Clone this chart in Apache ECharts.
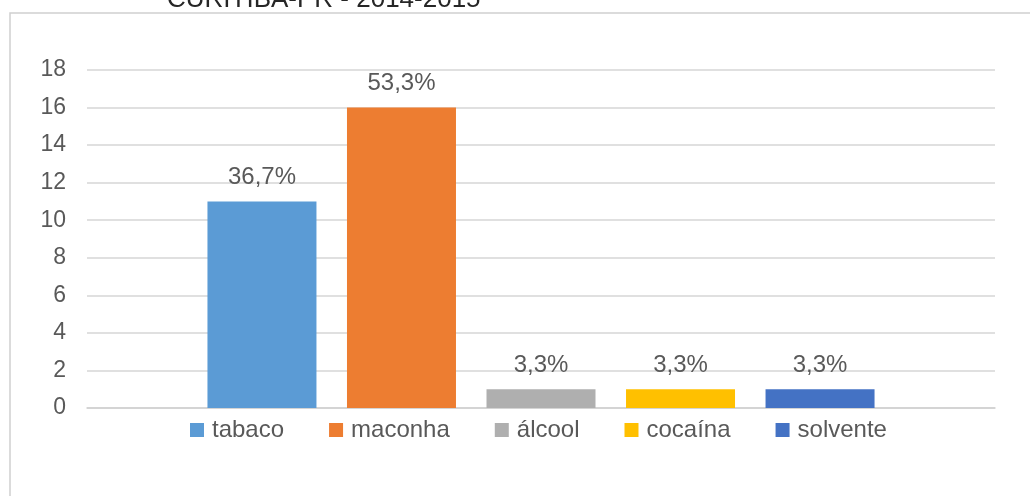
<!DOCTYPE html>
<html>
<head>
<meta charset="utf-8">
<script src="https://cdn.jsdelivr.net/npm/echarts@6/dist/echarts.min.js"></script>
<style>
  html, body { margin: 0; padding: 0; background: #fff; }
  #chart { width: 1030px; height: 496px; }
</style>
</head>
<body>
<div id="chart"></div>
<script>
// dados do gráfico
const titulo = 'CURITIBA-PR - 2014-2015'
const substancias = ['tabaco', 'maconha', 'álcool', 'cocaína', 'solvente']
const quantidades = [11, 16, 1, 1, 1]
const percentuais = ['36,7%', '53,3%', '3,3%', '3,3%', '3,3%']
const yTicks = { min: 0, max: 18, interval: 2 }

const cores = ['#5B9BD5', '#ED7D31', '#AFAFAF', '#FFC000', '#4472C4']
const fonte = "'Liberation Sans', Arial, sans-serif"
const cinzaTexto = '#595959'

const chart = echarts.init(document.getElementById('chart'))

const series = substancias.map((nome, i) => ({
  name: nome,
  type: 'bar',
  data: [quantidades[i]],
  barWidth: 109,
  barGap: '28%',
  itemStyle: { color: cores[i] },
  label: {
    show: true,
    position: 'top',
    distance: 12,
    formatter: () => percentuais[i],
    color: cinzaTexto,
    fontSize: 24,
    fontFamily: fonte
  }
}))

chart.setOption({
  animation: false,
  title: {
    text: titulo,
    left: 162,
    top: -18,
    textStyle: { color: '#262626', fontSize: 26, fontWeight: 'normal', fontFamily: fonte }
  },
  graphic: [{
    type: 'rect',
    shape: { x: 10, y: 13, width: 1200, height: 700 },
    style: { fill: 'none', stroke: '#d0d0d0', lineWidth: 1.5 },
    silent: true
  }],
  legend: {
    data: substancias,
    left: 185,
    top: 413,
    icon: 'rect',
    itemWidth: 14,
    itemHeight: 14,
    itemGap: 45,
    textStyle: { color: cinzaTexto, fontSize: 24, fontFamily: fonte, padding: [0, 0, 0, 3] }
  },
  grid: { left: 87, right: 35, top: 70, bottom: 88, containLabel: false },
  xAxis: {
    type: 'category',
    data: [''],
    axisLine: { lineStyle: { color: '#d0d0d0', width: 1.5 } },
    axisTick: { show: false },
    axisLabel: { show: false }
  },
  yAxis: {
    type: 'value',
    min: yTicks.min,
    max: yTicks.max,
    interval: yTicks.interval,
    axisLine: { show: false },
    axisTick: { show: false },
    splitLine: { lineStyle: { color: '#d6d6d6', width: 1.5 } },
    axisLabel: { color: cinzaTexto, fontSize: 23, fontFamily: fonte, margin: 21 }
  },
  series
})
</script>
</body>
</html>
